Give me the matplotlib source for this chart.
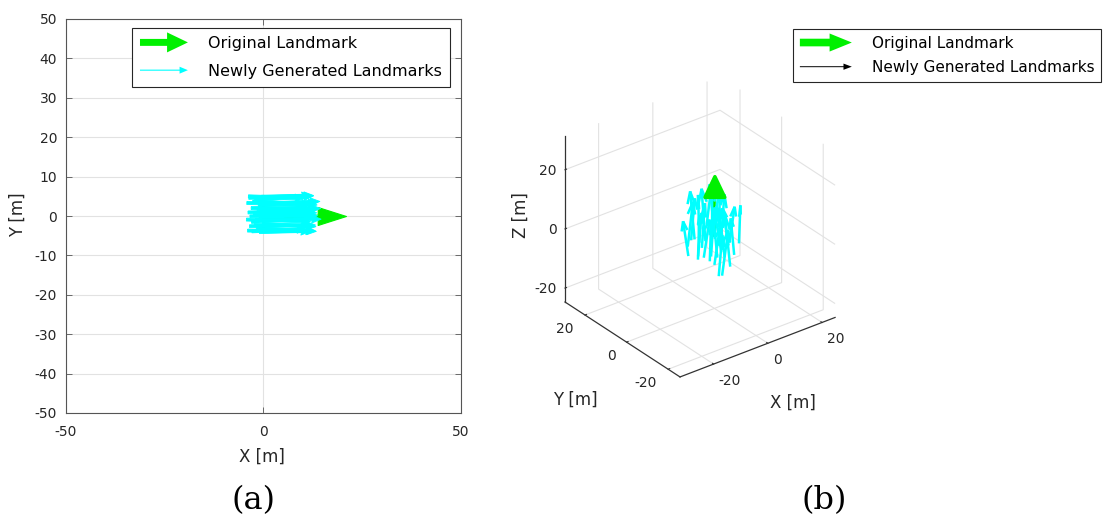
import numpy as np
import matplotlib
matplotlib.use("Agg")
import matplotlib.pyplot as plt
from matplotlib.patches import FancyArrow
from matplotlib.legend_handler import HandlerBase
from mpl_toolkits.mplot3d import proj3d
from mpl_toolkits.mplot3d.art3d import Poly3DCollection

# ---------------- data ----------------
# (a) planar view: original landmark and regenerated ones
orig2d_start = [0.0, 0.0]
orig2d_vec = [21.0, 0.0]

new2d_x0 = [-3.6, -2.1, -0.4, -4.1, -1.2, -3.0, -0.7, -3.8, -2.4, -1.0, -4.2, -2.9, -0.2,
            -3.4, -1.7, -3.9, -0.9, -2.6, -1.5, -3.3, -0.5, -2.2, -3.7, -1.9, -0.1, -2.8]
new2d_y0 = [4.6, 4.0, 4.9, 3.3, 2.7, 2.0, 1.4, 0.9, 0.3, -0.3, -0.9, -1.5, -2.0,
            -2.6, -3.1, -3.7, -4.1, 3.7, 1.8, -0.1, 0.6, -2.3, 5.0, -1.0, 3.2, -3.9]
new2d_u = [15.8, 14.9, 13.2, 16.4, 15.1, 14.6, 14.3, 17.1, 16.0, 14.8, 16.2, 15.4, 13.6,
           16.7, 15.2, 15.9, 14.1, 16.3, 16.1, 15.0, 13.9, 14.4, 14.2, 16.6, 14.5, 13.8]
new2d_v = [0.6, 1.1, 0.3, -0.4, 0.8, 0.2, -0.6, 0.5, -0.3, 0.4, -0.5, 0.9, -0.7,
           0.3, -0.8, -0.2, 0.4, -0.9, 0.1, 0.7, -0.4, -0.1, -0.5, 0.2, 0.5, 0.6]

x_ticks_a = [-50, 0, 50]
y_ticks_a = [-50, -40, -30, -20, -10, 0, 10, 20, 30, 40, 50]

# (b) spatial view
orig3d_start = [0.0, 0.0, 0.0]
orig3d_vec = [0.0, 0.0, 20.0]

new3d_x0 = [-6, -5, -4, -3, -2, -1, 0, 1, 2, 3, 4, 5, 6, -1, 2, -4, 5, -6, 0, 3, 6, -3, 1, -2,
            -5, 4, -2, 1, 3, -4]
new3d_y0 = [5, 6, 2, 4, -1, 3, 0, -2, 3, -1, 2, -3, -4, -5, -5, -3, 4, 0, 6, 5, 1, -6, 1, 2.5,
            3, -2, -4, 5, 0, 6]
new3d_z0 = [-4, -8, -2, -9, -6, -3, -10, -5, -1, -8, -4, -7, -3, -11, -9, -6, -2, -5, -7, -4,
            -6, -10, -2, -8, -1, -3, -5, 1, -6, -3]
new3d_u = [1.2, -1.5, 0.9, -0.6, 1.8, -1.2, 0.6, -1.8, 1.5, -0.9, 0.3, -1.5, 1.2, 1.8, -0.6,
           0.9, -1.2, 1.5, -0.3, 0.9, -1.8, 0.6, -0.9, 1.2, -0.8, 1.4, -1.1, 0.7, -1.6, 1.0]
new3d_v = [-0.9, 0.6, 1.8, -1.5, 0.9, 0.3, -1.8, 1.2, -0.6, 1.5, -1.2, -0.3, 0.9, -0.6, 1.8,
           0.6, -1.5, 0.3, -1.8, 1.2, 0.6, -0.9, 1.5, -1.2, 1.1, -0.7, 0.4, -1.3, 0.8, -0.5]
new3d_w = [15, 12, 15, 16, 14, 18, 13, 15, 14, 16, 16, 13, 12, 15, 17, 12, 15, 14, 16, 17,
           13, 14, 18, 13, 16, 12, 14, 13, 15, 14]

x_lim_b = (-32.4, 24.8)
y_lim_b = (-25.7, 29.6)
z_lim_b = (-24.7, 31.4)
ticks_b = [-20, 0, 20]

labels = ["Original Landmark", "Newly Generated Landmarks"]

# ---------------- style ----------------
W, H, DPI = 1108, 516, 100
TXT = "#262626"
GRID = "#e2e2e2"
GREEN = "#00f000"
CYAN = "#00ffff"
TICK_FS = 10
plt.rcParams["font.family"] = ["DejaVu Sans"]
plt.rcParams["axes.unicode_minus"] = False
plt.rcParams["grid.color"] = GRID
plt.rcParams["grid.linewidth"] = 0.8

fig = plt.figure(figsize=(W / DPI, H / DPI), dpi=DPI)


def fx(px):
    return px / W


def fy(py):
    return 1 - py / H


class ArrowHandler(HandlerBase):
    """Legend key drawn as a horizontal arrow."""

    def __init__(self, color, shaft, head_w, head_l):
        super().__init__()
        self.color, self.shaft, self.head_w, self.head_l = color, shaft, head_w, head_l

    def create_artists(self, legend, orig_handle, xdescent, ydescent, width, height,
                       fontsize, trans):
        y = (height - ydescent) / 2
        arr = FancyArrow(-xdescent, y, width, 0, width=self.shaft, head_width=self.head_w,
                         head_length=self.head_l, length_includes_head=True,
                         color=self.color, linewidth=0, transform=trans)
        return [arr]


# ---------------- (a) ----------------
ax = fig.add_axes([fx(65.5), fy(413), 395 / W, 394 / H])
ax.set_xlim(-50, 50)
ax.set_ylim(-50, 50)
ax.set_xticks(x_ticks_a)
ax.set_yticks(y_ticks_a)
ax.grid(True, color=GRID, linewidth=0.8)
ax.set_axisbelow(True)
ax.tick_params(axis="both", direction="in", length=4, width=0.6, color="#555555",
               labelcolor=TXT, labelsize=TICK_FS, top=True, right=True)
ax.tick_params(axis="x", pad=9)
ax.tick_params(axis="y", pad=6)
for s in ax.spines.values():
    s.set_color("#555555")
    s.set_linewidth(0.8)

ax.quiver([orig2d_start[0]], [orig2d_start[1]], [orig2d_vec[0]], [orig2d_vec[1]],
          angles="xy", scale_units="xy", scale=1, color=GREEN, width=0.0065,
          headwidth=7, headlength=11, headaxislength=11, edgecolor=GREEN,
          linewidth=0.8, zorder=2)
ax.quiver(new2d_x0, new2d_y0, new2d_u, new2d_v, angles="xy", scale_units="xy", scale=1,
          color=CYAN, edgecolor=CYAN, linewidth=0.6, width=0.0075, headwidth=2.6,
          headlength=3.2, headaxislength=3.0, zorder=3)

h_orig = FancyArrow(0, 0, 1, 0)
h_new = FancyArrow(0, 0, 1, 0)
leg_a = ax.legend([h_orig, h_new], labels, loc="upper left",
                  bbox_to_anchor=(fx(132), fy(28)), bbox_transform=fig.transFigure,
                  fontsize=11.5, frameon=True, fancybox=False, framealpha=1,
                  edgecolor=TXT, borderaxespad=0, borderpad=0.5, handlelength=3.0,
                  handletextpad=1.25, labelspacing=0.8,
                  handler_map={h_orig: ArrowHandler(GREEN, 5, 14.4, 15),
                               h_new: ArrowHandler(CYAN, 0.8, 5, 6)})
leg_a.get_frame().set_linewidth(0.8)

fig.text(fx(262), fy(457), "X [m]", ha="center", va="center", fontsize=12, color=TXT)
fig.text(fx(18), fy(215), "Y [m]", ha="center", va="center", fontsize=12, color=TXT,
         rotation=90)

# ---------------- (b) ----------------
ax3 = fig.add_axes([fx(520), fy(420), 360 / W, 360 / H], projection="3d")
ax3.patch.set_alpha(0)
ax3.set_proj_type("ortho")
ax3.view_init(elev=30, azim=-127.5)
ax3.set_xlim(*x_lim_b)
ax3.set_ylim(*y_lim_b)
ax3.set_zlim(*z_lim_b)
ax3.set_box_aspect((x_lim_b[1] - x_lim_b[0], y_lim_b[1] - y_lim_b[0],
                    z_lim_b[1] - z_lim_b[0]))
ax3.set_xticks(ticks_b)
ax3.set_yticks(ticks_b)
ax3.set_zticks(ticks_b)
ax3.set_xticklabels([])
ax3.set_yticklabels([])
ax3.set_zticklabels([])
for axis in (ax3.xaxis, ax3.yaxis, ax3.zaxis):
    axis.set_pane_color((1, 1, 1, 0))
    axis.pane.set_edgecolor((1, 1, 1, 0))
    axis.line.set_color("#333333")
    axis.line.set_linewidth(0.9)
    axis._axinfo["grid"]["color"] = GRID
    axis._axinfo["grid"]["linewidth"] = 0.8
    axis._axinfo["tick"]["inward_factor"] = 0.0
    axis._axinfo["tick"]["outward_factor"] = 0.12
ax3.tick_params(colors="#333333")

ax3.computed_zorder = False

# original landmark: shaft (under the regenerated arrows) plus filled head on top
head_len, head_half = 7.0, 2.9
sx, sy, sz = orig3d_start
vx, vy, vz = orig3d_vec
L = np.sqrt(vx ** 2 + vy ** 2 + vz ** 2)
d = np.array([vx, vy, vz]) / L
tip = np.array([sx + vx, sy + vy, sz + vz])
base = tip - head_len * d
az = np.radians(-127.5)
r = np.array([-np.sin(az), np.cos(az), 0.0])
ax3.plot([sx, base[0]], [sy, base[1]], [sz, base[2]], color=GREEN, linewidth=2.6,
         zorder=1)

ax3.quiver(new3d_x0, new3d_y0, new3d_z0, new3d_u, new3d_v, new3d_w, color=CYAN,
           arrow_length_ratio=0.28, linewidth=1.8, zorder=2)

head = Poly3DCollection([[tip, base + head_half * r, base - head_half * r]],
                        facecolor=GREEN, edgecolor=GREEN, linewidth=2.5, zorder=5)
head.set_joinstyle("round")
ax3.add_collection3d(head)

h_orig_b = FancyArrow(0, 0, 1, 0)
h_new_b = FancyArrow(0, 0, 1, 0)
leg_b = fig.legend([h_orig_b, h_new_b], labels, loc="upper left",
                   bbox_to_anchor=(fx(793), fy(29)), fontsize=11, frameon=True,
                   fancybox=False, framealpha=1, edgecolor=TXT, borderaxespad=0,
                   borderpad=0.45, handlelength=3.4, handletextpad=1.3, labelspacing=0.6,
                   handler_map={h_orig_b: ArrowHandler(GREEN, 5.5, 13, 16),
                                h_new_b: ArrowHandler("black", 0.7, 4.5, 6)})
leg_b.get_frame().set_linewidth(0.8)

fig.text(fx(793), fy(403), "X [m]", ha="center", va="center", fontsize=12, color=TXT)
fig.text(fx(575), fy(400), "Y [m]", ha="center", va="center", fontsize=12, color=TXT)
fig.text(fx(521), fy(215), "Z [m]", ha="center", va="center", fontsize=12, color=TXT,
         rotation=90)

fig.text(fx(254), fy(500.5), "(a)", ha="center", va="center", fontsize=23,
         family="DejaVu Serif", color="black")
fig.text(fx(824), fy(500.5), "(b)", ha="center", va="center", fontsize=23,
         family="DejaVu Serif", color="black")


# ---- fit the 3D box so its left vertical edge spans the intended pixel range ----
def to_px(x, y, z):
    xs, ys, _ = proj3d.proj_transform(x, y, z, ax3.M)
    X, Y = ax3.transData.transform((xs, ys))
    return X, H - Y


fig.canvas.draw()
p_lo = to_px(x_lim_b[0], y_lim_b[1], z_lim_b[0])
p_hi = to_px(x_lim_b[0], y_lim_b[1], z_lim_b[1])
k = (302 - 136) / (p_lo[1] - p_hi[1])
b = ax3.get_position(original=True)
cx, cy = b.x0 + b.width / 2, b.y0 + b.height / 2
ax3.set_position([cx - b.width * k / 2, cy - b.height * k / 2, b.width * k, b.height * k])
fig.canvas.draw()
p_lo = to_px(x_lim_b[0], y_lim_b[1], z_lim_b[0])
b = ax3.get_position(original=True)
ax3.set_position([b.x0 + (565 - p_lo[0]) / W, b.y0 + (p_lo[1] - 302) / H, b.width, b.height])
fig.canvas.draw()

# tick labels of the 3D box, offset from the projected tick positions
for t in ticks_b:
    X, Y = to_px(t, y_lim_b[0], z_lim_b[0])
    fig.text(fx(X + 5), fy(Y + 17), str(t), ha="left", va="center", fontsize=TICK_FS,
             color=TXT)
    X, Y = to_px(x_lim_b[0], t, z_lim_b[0])
    fig.text(fx(X - 11), fy(Y + 14), str(t), ha="right", va="center", fontsize=TICK_FS,
             color=TXT)
    X, Y = to_px(x_lim_b[0], y_lim_b[1], t)
    fig.text(fx(X - 8), fy(Y + 1), str(t), ha="right", va="center", fontsize=TICK_FS,
             color=TXT)

fig.savefig("out.png", dpi=DPI)
